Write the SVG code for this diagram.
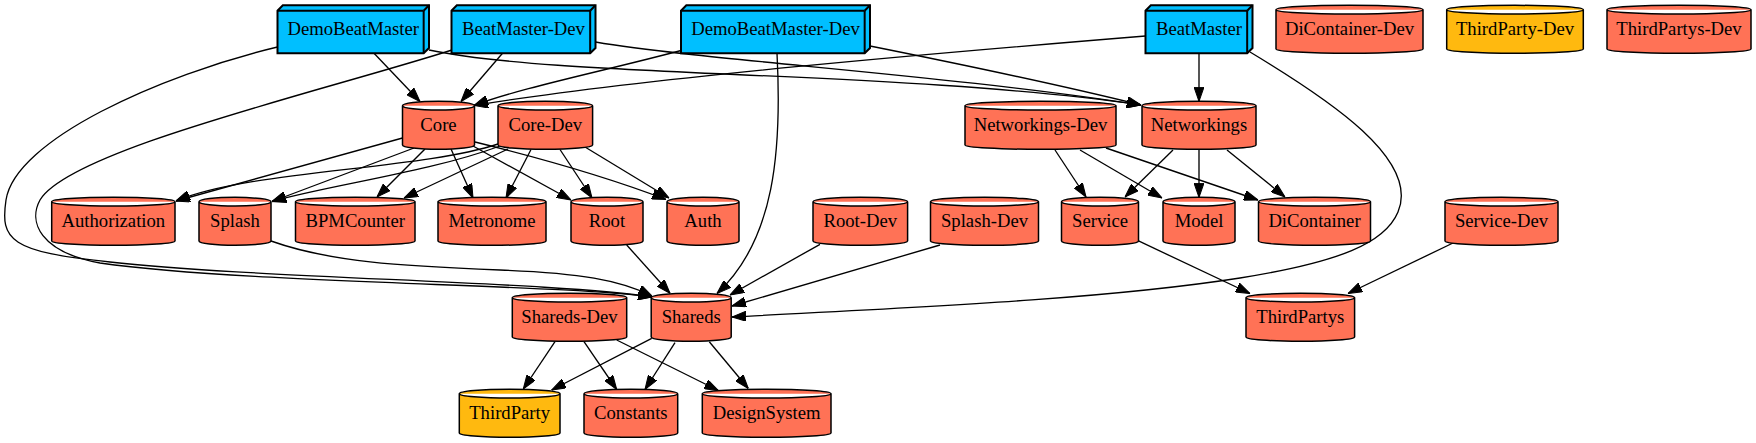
<svg xmlns="http://www.w3.org/2000/svg" width="1756" height="443" viewBox="0 0 1756 443">
<style>
.b3 polygon{fill:#00bfff;stroke:#000;stroke-width:2}
.b3 polyline{fill:none;stroke:#000;stroke-width:2}
.cy path{fill:#ff7256;stroke:#000;stroke-width:1.5}
.cy.y path{fill:#ffb90f}
text{font-family:"Liberation Serif","Times New Roman",serif;font-size:18.67px;text-anchor:middle;fill:#000}
#edges path{fill:none;stroke:#000;stroke-width:1.33;marker-end:url(#ah)}
</style>
<defs>
<marker id="ah" markerUnits="userSpaceOnUse" markerWidth="14" markerHeight="10" viewBox="0 0 13.33 9.33" refX="13.33" refY="4.67" orient="auto">
<path d="M0,0 L13.33,4.67 L0,9.33 Z" fill="#000" stroke="#000" stroke-width="1"/>
</marker>
</defs>
<rect width="1756" height="443" fill="#fff"/>
<g id="edges">
<path d="M374,53.3 L420,101.5"/>
<path d="M502.5,53.3 L461,101.5"/>
<path d="M683,50 C600,72 520,88 474,105.5"/>
<path d="M1145.5,36 C950,52 640,78 474,105.5"/>
<path d="M429,50 C560,78 900,70 1141,105"/>
<path d="M595.5,42 C700,60 950,75 1141,105"/>
<path d="M870,46 C950,62 1060,85 1141,105"/>
<path d="M1199,53.3 L1199,101.3"/>
<path d="M277.5,47 C160,75 15,140 6,200 C0,240 10,252 110,262 C250,278 560,282 652,297"/>
<path d="M452,50 C320,92 70,150 40,200 C28,222 40,252 100,263 C250,284 560,284 652,297"/>
<path d="M777,53.3 C782,150 775,240 717,293.5"/>
<path d="M1250,52 C1330,100 1420,160 1398,212 C1385,243 1340,262 1240,278 C1100,300 900,308 732,317"/>
<path d="M402.5,138 L176,201"/>
<path d="M414,148 L272,201.5"/>
<path d="M425,149 L377,197"/>
<path d="M451,149 L473,198"/>
<path d="M473,146 L571,200"/>
<path d="M475,142 C540,158 610,178 666,199.5"/>
<path d="M498,144 C420,170 250,170 176,201"/>
<path d="M500,146 C430,172 330,185 272,201.5"/>
<path d="M508,149 L404,198"/>
<path d="M531,149.5 L506,198"/>
<path d="M560,149.5 L592,198"/>
<path d="M585,147 L669,198"/>
<path d="M1055,150 L1086,197"/>
<path d="M1080,150 L1162,198"/>
<path d="M1106,148 L1258,200"/>
<path d="M1173,150 L1125,197"/>
<path d="M1199,149.3 L1199,197.3"/>
<path d="M1227,150 L1285,197"/>
<path d="M271,241 C330,262 400,266 500,270 C580,273 620,280 652,296"/>
<path d="M626.7,245 L670,293.3"/>
<path d="M820,244.3 L730,295"/>
<path d="M940,245 L732,306"/>
<path d="M1138,240.7 L1250,293.5"/>
<path d="M1453,243 L1348,293.5"/>
<path d="M555,341.7 L523.3,389"/>
<path d="M584,341.7 L616.7,389.5"/>
<path d="M616.7,340 L718.3,390.5"/>
<path d="M651.7,338.3 L551.7,390"/>
<path d="M675,342.7 L645,389.5"/>
<path d="M709.3,341.7 L748.3,388.5"/>
</g>
<g id="DemoBeatMaster" class="b3">
<polygon points="429,5.33 282.83,5.33 277.5,10.67 277.5,53.33 423.67,53.33 429,48 429,5.33"/>
<polyline points="423.67,10.67 277.5,10.67"/><polyline points="423.67,10.67 423.67,53.33"/><polyline points="423.67,10.67 429,5.33"/>
<text x="353.25" y="35.3">DemoBeatMaster</text>
</g>
<g id="BeatMaster-Dev" class="b3">
<polygon points="595.5,5.33 456.83,5.33 451.5,10.67 451.5,53.33 590.17,53.33 595.5,48 595.5,5.33"/>
<polyline points="590.17,10.67 451.5,10.67"/><polyline points="590.17,10.67 590.17,53.33"/><polyline points="590.17,10.67 595.5,5.33"/>
<text x="523.5" y="35.3">BeatMaster-Dev</text>
</g>
<g id="DemoBeatMaster-Dev" class="b3">
<polygon points="870,5.33 686.33,5.33 681,10.67 681,53.33 864.67,53.33 870,48 870,5.33"/>
<polyline points="864.67,10.67 681,10.67"/><polyline points="864.67,10.67 864.67,53.33"/><polyline points="864.67,10.67 870,5.33"/>
<text x="775.5" y="35.3">DemoBeatMaster-Dev</text>
</g>
<g id="BeatMaster" class="b3">
<polygon points="1252.5,5.33 1150.83,5.33 1145.5,10.67 1145.5,53.33 1247.17,53.33 1252.5,48 1252.5,5.33"/>
<polyline points="1247.17,10.67 1145.5,10.67"/><polyline points="1247.17,10.67 1247.17,53.33"/><polyline points="1247.17,10.67 1252.5,5.33"/>
<text x="1199" y="35.3">BeatMaster</text>
</g>
<g id="DiContainer-Dev" class="cy"><path d="M1276,9.69 A73.5,4.36 0 0 1 1423,9.69 V48.97 A73.5,4.36 0 0 1 1276,48.97 Z M1276,9.69 A73.5,4.36 0 0 0 1423,9.69"/><text x="1349.5" y="35.3">DiContainer-Dev</text></g>
<g id="ThirdParty-Dev" class="cy y"><path d="M1446.7,9.69 A68.3,4.36 0 0 1 1583.3,9.69 V48.97 A68.3,4.36 0 0 1 1446.7,48.97 Z M1446.7,9.69 A68.3,4.36 0 0 0 1583.3,9.69"/><text x="1515" y="35.3">ThirdParty-Dev</text></g>
<g id="ThirdPartys-Dev" class="cy"><path d="M1607,9.69 A72,4.36 0 0 1 1751,9.69 V48.97 A72,4.36 0 0 1 1607,48.97 Z M1607,9.69 A72,4.36 0 0 0 1751,9.69"/><text x="1679" y="35.3">ThirdPartys-Dev</text></g>
<g id="Core" class="cy"><path d="M402.5,105.69 A36,4.36 0 0 1 474.5,105.69 V144.97 A36,4.36 0 0 1 402.5,144.97 Z M402.5,105.69 A36,4.36 0 0 0 474.5,105.69"/><text x="438.5" y="131.3">Core</text></g>
<g id="Core-Dev" class="cy"><path d="M498,105.69 A47.3,4.36 0 0 1 592.6,105.69 V144.97 A47.3,4.36 0 0 1 498,144.97 Z M498,105.69 A47.3,4.36 0 0 0 592.6,105.69"/><text x="545.3" y="131.3">Core-Dev</text></g>
<g id="Networkings-Dev" class="cy"><path d="M965,105.69 A75.5,4.36 0 0 1 1116,105.69 V144.97 A75.5,4.36 0 0 1 965,144.97 Z M965,105.69 A75.5,4.36 0 0 0 1116,105.69"/><text x="1040.5" y="131.3">Networkings-Dev</text></g>
<g id="Networkings" class="cy"><path d="M1142,105.69 A57,4.36 0 0 1 1256,105.69 V144.97 A57,4.36 0 0 1 1142,144.97 Z M1142,105.69 A57,4.36 0 0 0 1256,105.69"/><text x="1199" y="131.3">Networkings</text></g>
<g id="Authorization" class="cy"><path d="M51.7,201.69 A61.65,4.36 0 0 1 175,201.69 V240.97 A61.65,4.36 0 0 1 51.7,240.97 Z M51.7,201.69 A61.65,4.36 0 0 0 175,201.69"/><text x="113.35" y="227.3">Authorization</text></g>
<g id="Splash" class="cy"><path d="M199,201.69 A36,4.36 0 0 1 271,201.69 V240.97 A36,4.36 0 0 1 199,240.97 Z M199,201.69 A36,4.36 0 0 0 271,201.69"/><text x="235" y="227.3">Splash</text></g>
<g id="BPMCounter" class="cy"><path d="M295.5,201.69 A59.75,4.36 0 0 1 415,201.69 V240.97 A59.75,4.36 0 0 1 295.5,240.97 Z M295.5,201.69 A59.75,4.36 0 0 0 415,201.69"/><text x="355.25" y="227.3">BPMCounter</text></g>
<g id="Metronome" class="cy"><path d="M438,201.69 A54,4.36 0 0 1 546,201.69 V240.97 A54,4.36 0 0 1 438,240.97 Z M438,201.69 A54,4.36 0 0 0 546,201.69"/><text x="492" y="227.3">Metronome</text></g>
<g id="Root" class="cy"><path d="M571,201.69 A36,4.36 0 0 1 643,201.69 V240.97 A36,4.36 0 0 1 571,240.97 Z M571,201.69 A36,4.36 0 0 0 643,201.69"/><text x="607" y="227.3">Root</text></g>
<g id="Auth" class="cy"><path d="M667,201.69 A36,4.36 0 0 1 739,201.69 V240.97 A36,4.36 0 0 1 667,240.97 Z M667,201.69 A36,4.36 0 0 0 739,201.69"/><text x="703" y="227.3">Auth</text></g>
<g id="Root-Dev" class="cy"><path d="M813,201.69 A47.3,4.36 0 0 1 907.6,201.69 V240.97 A47.3,4.36 0 0 1 813,240.97 Z M813,201.69 A47.3,4.36 0 0 0 907.6,201.69"/><text x="860.3" y="227.3">Root-Dev</text></g>
<g id="Splash-Dev" class="cy"><path d="M930.5,201.69 A54,4.36 0 0 1 1038.5,201.69 V240.97 A54,4.36 0 0 1 930.5,240.97 Z M930.5,201.69 A54,4.36 0 0 0 1038.5,201.69"/><text x="984.5" y="227.3">Splash-Dev</text></g>
<g id="Service" class="cy"><path d="M1061.5,201.69 A38.5,4.36 0 0 1 1138.5,201.69 V240.97 A38.5,4.36 0 0 1 1061.5,240.97 Z M1061.5,201.69 A38.5,4.36 0 0 0 1138.5,201.69"/><text x="1100" y="227.3">Service</text></g>
<g id="Model" class="cy"><path d="M1163,201.69 A36,4.36 0 0 1 1235,201.69 V240.97 A36,4.36 0 0 1 1163,240.97 Z M1163,201.69 A36,4.36 0 0 0 1235,201.69"/><text x="1199" y="227.3">Model</text></g>
<g id="DiContainer" class="cy"><path d="M1258.5,201.69 A56,4.36 0 0 1 1370.5,201.69 V240.97 A56,4.36 0 0 1 1258.5,240.97 Z M1258.5,201.69 A56,4.36 0 0 0 1370.5,201.69"/><text x="1314.5" y="227.3">DiContainer</text></g>
<g id="Service-Dev" class="cy"><path d="M1445,201.69 A56.5,4.36 0 0 1 1558,201.69 V240.97 A56.5,4.36 0 0 1 1445,240.97 Z M1445,201.69 A56.5,4.36 0 0 0 1558,201.69"/><text x="1501.5" y="227.3">Service-Dev</text></g>
<g id="Shareds-Dev" class="cy"><path d="M512.3,297.69 A57.2,4.36 0 0 1 626.7,297.69 V336.97 A57.2,4.36 0 0 1 512.3,336.97 Z M512.3,297.69 A57.2,4.36 0 0 0 626.7,297.69"/><text x="569.5" y="323.3">Shareds-Dev</text></g>
<g id="Shareds" class="cy"><path d="M651.2,297.69 A40,4.36 0 0 1 731.2,297.69 V336.97 A40,4.36 0 0 1 651.2,336.97 Z M651.2,297.69 A40,4.36 0 0 0 731.2,297.69"/><text x="691.2" y="323.3">Shareds</text></g>
<g id="ThirdPartys" class="cy"><path d="M1246,297.69 A54.3,4.36 0 0 1 1354.6,297.69 V336.97 A54.3,4.36 0 0 1 1246,336.97 Z M1246,297.69 A54.3,4.36 0 0 0 1354.6,297.69"/><text x="1300.3" y="323.3">ThirdPartys</text></g>
<g id="ThirdParty" class="cy y"><path d="M459.3,393.69 A50.35,4.36 0 0 1 560,393.69 V432.97 A50.35,4.36 0 0 1 459.3,432.97 Z M459.3,393.69 A50.35,4.36 0 0 0 560,393.69"/><text x="509.65" y="419.3">ThirdParty</text></g>
<g id="Constants" class="cy"><path d="M584,393.69 A46.85,4.36 0 0 1 677.7,393.69 V432.97 A46.85,4.36 0 0 1 584,432.97 Z M584,393.69 A46.85,4.36 0 0 0 677.7,393.69"/><text x="630.85" y="419.3">Constants</text></g>
<g id="DesignSystem" class="cy"><path d="M702.3,393.69 A64.35,4.36 0 0 1 831,393.69 V432.97 A64.35,4.36 0 0 1 702.3,432.97 Z M702.3,393.69 A64.35,4.36 0 0 0 831,393.69"/><text x="766.65" y="419.3">DesignSystem</text></g>
</svg>
